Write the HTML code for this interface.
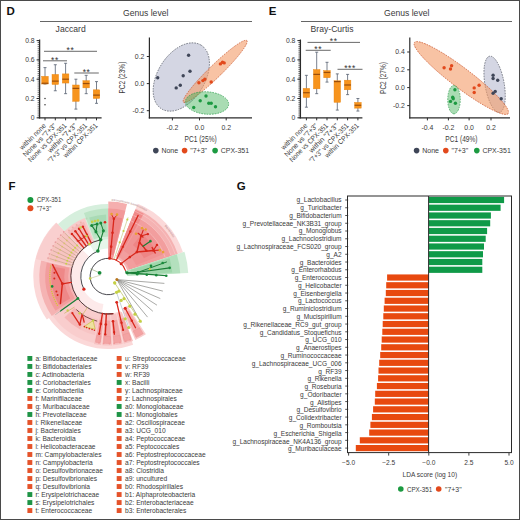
<!DOCTYPE html>
<html><head><meta charset="utf-8"><style>
html,body{margin:0;padding:0;background:#fff;width:520px;height:520px;overflow:hidden}
svg{display:block}
text{font-family:"Liberation Sans", sans-serif}
</style></head><body>
<svg width="520" height="520" viewBox="0 0 520 520" font-family='"Liberation Sans", sans-serif'>
<rect x="0.00" y="0.00" width="520.00" height="520.00" fill="#ffffff" />
<text x="6.50" y="14.80" font-size="11.5" text-anchor="start" fill="#111" font-weight="bold" >D</text>
<text x="268.80" y="14.80" font-size="11.5" text-anchor="start" fill="#111" font-weight="bold" >E</text>
<text x="123.00" y="16.30" font-size="8.6" text-anchor="start" fill="#3a3a3a" font-weight="normal" >Genus level</text>
<line x1="40.00" y1="21.50" x2="252.00" y2="21.50" stroke="#555" stroke-width="0.9" />
<text x="384.00" y="16.30" font-size="8.6" text-anchor="start" fill="#3a3a3a" font-weight="normal" >Genus level</text>
<line x1="301.00" y1="21.50" x2="512.00" y2="21.50" stroke="#555" stroke-width="0.9" />
<text x="55.60" y="32.00" font-size="8.6" text-anchor="start" fill="#3a3a3a" font-weight="normal" >Jaccard</text>
<line x1="39.60" y1="39.50" x2="39.60" y2="118.30" stroke="#2b2b2b" stroke-width="1.3" />
<line x1="37.60" y1="117.80" x2="39.60" y2="117.80" stroke="#333" stroke-width="0.7" />
<line x1="37.60" y1="115.87" x2="39.60" y2="115.87" stroke="#333" stroke-width="0.7" />
<line x1="37.60" y1="113.94" x2="39.60" y2="113.94" stroke="#333" stroke-width="0.7" />
<line x1="37.60" y1="112.01" x2="39.60" y2="112.01" stroke="#333" stroke-width="0.7" />
<line x1="37.60" y1="110.08" x2="39.60" y2="110.08" stroke="#333" stroke-width="0.7" />
<line x1="37.60" y1="108.15" x2="39.60" y2="108.15" stroke="#333" stroke-width="0.7" />
<line x1="37.60" y1="106.22" x2="39.60" y2="106.22" stroke="#333" stroke-width="0.7" />
<line x1="37.60" y1="104.29" x2="39.60" y2="104.29" stroke="#333" stroke-width="0.7" />
<line x1="37.60" y1="102.36" x2="39.60" y2="102.36" stroke="#333" stroke-width="0.7" />
<line x1="37.60" y1="100.43" x2="39.60" y2="100.43" stroke="#333" stroke-width="0.7" />
<line x1="37.60" y1="98.50" x2="39.60" y2="98.50" stroke="#333" stroke-width="0.7" />
<line x1="37.60" y1="96.57" x2="39.60" y2="96.57" stroke="#333" stroke-width="0.7" />
<line x1="37.60" y1="94.64" x2="39.60" y2="94.64" stroke="#333" stroke-width="0.7" />
<line x1="37.60" y1="92.71" x2="39.60" y2="92.71" stroke="#333" stroke-width="0.7" />
<line x1="37.60" y1="90.78" x2="39.60" y2="90.78" stroke="#333" stroke-width="0.7" />
<line x1="37.60" y1="88.85" x2="39.60" y2="88.85" stroke="#333" stroke-width="0.7" />
<line x1="37.60" y1="86.92" x2="39.60" y2="86.92" stroke="#333" stroke-width="0.7" />
<line x1="37.60" y1="84.99" x2="39.60" y2="84.99" stroke="#333" stroke-width="0.7" />
<line x1="37.60" y1="83.06" x2="39.60" y2="83.06" stroke="#333" stroke-width="0.7" />
<line x1="37.60" y1="81.13" x2="39.60" y2="81.13" stroke="#333" stroke-width="0.7" />
<line x1="37.60" y1="79.20" x2="39.60" y2="79.20" stroke="#333" stroke-width="0.7" />
<line x1="37.60" y1="77.27" x2="39.60" y2="77.27" stroke="#333" stroke-width="0.7" />
<line x1="37.60" y1="75.34" x2="39.60" y2="75.34" stroke="#333" stroke-width="0.7" />
<line x1="37.60" y1="73.41" x2="39.60" y2="73.41" stroke="#333" stroke-width="0.7" />
<line x1="37.60" y1="71.48" x2="39.60" y2="71.48" stroke="#333" stroke-width="0.7" />
<line x1="37.60" y1="69.55" x2="39.60" y2="69.55" stroke="#333" stroke-width="0.7" />
<line x1="37.60" y1="67.62" x2="39.60" y2="67.62" stroke="#333" stroke-width="0.7" />
<line x1="37.60" y1="65.69" x2="39.60" y2="65.69" stroke="#333" stroke-width="0.7" />
<line x1="37.60" y1="63.76" x2="39.60" y2="63.76" stroke="#333" stroke-width="0.7" />
<line x1="37.60" y1="61.83" x2="39.60" y2="61.83" stroke="#333" stroke-width="0.7" />
<line x1="37.60" y1="59.90" x2="39.60" y2="59.90" stroke="#333" stroke-width="0.7" />
<line x1="37.60" y1="57.97" x2="39.60" y2="57.97" stroke="#333" stroke-width="0.7" />
<line x1="37.60" y1="56.04" x2="39.60" y2="56.04" stroke="#333" stroke-width="0.7" />
<line x1="37.60" y1="54.11" x2="39.60" y2="54.11" stroke="#333" stroke-width="0.7" />
<line x1="37.60" y1="52.18" x2="39.60" y2="52.18" stroke="#333" stroke-width="0.7" />
<line x1="37.60" y1="50.25" x2="39.60" y2="50.25" stroke="#333" stroke-width="0.7" />
<line x1="37.60" y1="48.32" x2="39.60" y2="48.32" stroke="#333" stroke-width="0.7" />
<line x1="37.60" y1="46.39" x2="39.60" y2="46.39" stroke="#333" stroke-width="0.7" />
<line x1="37.60" y1="44.46" x2="39.60" y2="44.46" stroke="#333" stroke-width="0.7" />
<line x1="37.60" y1="42.53" x2="39.60" y2="42.53" stroke="#333" stroke-width="0.7" />
<line x1="37.60" y1="40.60" x2="39.60" y2="40.60" stroke="#333" stroke-width="0.7" />
<line x1="36.60" y1="117.80" x2="39.60" y2="117.80" stroke="#2b2b2b" stroke-width="1" />
<text x="34.60" y="120.20" font-size="6.8" text-anchor="end" fill="#3a3a3a" font-weight="normal" >0</text>
<line x1="36.60" y1="98.50" x2="39.60" y2="98.50" stroke="#2b2b2b" stroke-width="1" />
<text x="34.60" y="100.90" font-size="6.8" text-anchor="end" fill="#3a3a3a" font-weight="normal" >0.2</text>
<line x1="36.60" y1="79.20" x2="39.60" y2="79.20" stroke="#2b2b2b" stroke-width="1" />
<text x="34.60" y="81.60" font-size="6.8" text-anchor="end" fill="#3a3a3a" font-weight="normal" >0.4</text>
<line x1="36.60" y1="59.90" x2="39.60" y2="59.90" stroke="#2b2b2b" stroke-width="1" />
<text x="34.60" y="62.30" font-size="6.8" text-anchor="end" fill="#3a3a3a" font-weight="normal" >0.6</text>
<line x1="36.60" y1="40.60" x2="39.60" y2="40.60" stroke="#2b2b2b" stroke-width="1" />
<text x="34.60" y="43.00" font-size="6.8" text-anchor="end" fill="#3a3a3a" font-weight="normal" >0.8</text>
<line x1="39.00" y1="117.80" x2="101.60" y2="117.80" stroke="#2b2b2b" stroke-width="1.3" />
<line x1="45.00" y1="117.80" x2="45.00" y2="120.30" stroke="#2b2b2b" stroke-width="1" />
<line x1="55.30" y1="117.80" x2="55.30" y2="120.30" stroke="#2b2b2b" stroke-width="1" />
<line x1="65.60" y1="117.80" x2="65.60" y2="120.30" stroke="#2b2b2b" stroke-width="1" />
<line x1="75.90" y1="117.80" x2="75.90" y2="120.30" stroke="#2b2b2b" stroke-width="1" />
<line x1="86.20" y1="117.80" x2="86.20" y2="120.30" stroke="#2b2b2b" stroke-width="1" />
<line x1="96.50" y1="117.80" x2="96.50" y2="120.30" stroke="#2b2b2b" stroke-width="1" />
<line x1="45.00" y1="67.62" x2="45.00" y2="84.03" stroke="#556070" stroke-width="0.8" />
<line x1="43.50" y1="67.62" x2="46.50" y2="67.62" stroke="#556070" stroke-width="0.8" />
<line x1="43.50" y1="84.03" x2="46.50" y2="84.03" stroke="#556070" stroke-width="0.8" />
<rect x="41.70" y="76.31" width="6.60" height="7.72" fill="#f7941d" stroke="#e88410" stroke-width="0.4"/>
<line x1="41.70" y1="83.25" x2="48.30" y2="83.25" stroke="#9a4d0a" stroke-width="1.2" />
<circle cx="45.00" cy="98.50" r="0.8" fill="#444" />
<circle cx="45.00" cy="104.77" r="0.8" fill="#444" />
<line x1="55.30" y1="64.72" x2="55.30" y2="90.78" stroke="#556070" stroke-width="0.8" />
<line x1="53.80" y1="64.72" x2="56.80" y2="64.72" stroke="#556070" stroke-width="0.8" />
<line x1="53.80" y1="90.78" x2="56.80" y2="90.78" stroke="#556070" stroke-width="0.8" />
<rect x="52.00" y="74.38" width="6.60" height="10.13" fill="#f7941d" stroke="#e88410" stroke-width="0.4"/>
<line x1="52.00" y1="81.13" x2="58.60" y2="81.13" stroke="#9a4d0a" stroke-width="1.2" />
<line x1="65.60" y1="63.28" x2="65.60" y2="93.67" stroke="#556070" stroke-width="0.8" />
<line x1="64.10" y1="63.28" x2="67.10" y2="63.28" stroke="#556070" stroke-width="0.8" />
<line x1="64.10" y1="93.67" x2="67.10" y2="93.67" stroke="#556070" stroke-width="0.8" />
<rect x="62.30" y="73.89" width="6.60" height="9.17" fill="#f7941d" stroke="#e88410" stroke-width="0.4"/>
<line x1="62.30" y1="79.20" x2="68.90" y2="79.20" stroke="#9a4d0a" stroke-width="1.2" />
<line x1="75.90" y1="79.20" x2="75.90" y2="109.11" stroke="#556070" stroke-width="0.8" />
<line x1="74.40" y1="79.20" x2="77.40" y2="79.20" stroke="#556070" stroke-width="0.8" />
<line x1="74.40" y1="109.11" x2="77.40" y2="109.11" stroke="#556070" stroke-width="0.8" />
<rect x="72.60" y="84.99" width="6.60" height="16.41" fill="#f7941d" stroke="#e88410" stroke-width="0.4"/>
<line x1="72.60" y1="88.37" x2="79.20" y2="88.37" stroke="#9a4d0a" stroke-width="1.2" />
<line x1="86.20" y1="75.34" x2="86.20" y2="93.67" stroke="#556070" stroke-width="0.8" />
<line x1="84.70" y1="75.34" x2="87.70" y2="75.34" stroke="#556070" stroke-width="0.8" />
<line x1="84.70" y1="93.67" x2="87.70" y2="93.67" stroke="#556070" stroke-width="0.8" />
<rect x="82.90" y="80.65" width="6.60" height="7.24" fill="#f7941d" stroke="#e88410" stroke-width="0.4"/>
<line x1="82.90" y1="83.54" x2="89.50" y2="83.54" stroke="#9a4d0a" stroke-width="1.2" />
<line x1="96.50" y1="81.61" x2="96.50" y2="103.33" stroke="#556070" stroke-width="0.8" />
<line x1="95.00" y1="81.61" x2="98.00" y2="81.61" stroke="#556070" stroke-width="0.8" />
<line x1="95.00" y1="103.33" x2="98.00" y2="103.33" stroke="#556070" stroke-width="0.8" />
<rect x="93.20" y="89.81" width="6.60" height="8.69" fill="#f7941d" stroke="#e88410" stroke-width="0.4"/>
<line x1="93.20" y1="95.12" x2="99.80" y2="95.12" stroke="#9a4d0a" stroke-width="1.2" />
<line x1="44.00" y1="51.30" x2="97.00" y2="51.30" stroke="#444" stroke-width="0.8" />
<text x="70.50" y="53.00" font-size="8.5" text-anchor="middle" fill="#333" font-weight="normal" letter-spacing="0.6">**</text>
<line x1="43.00" y1="60.80" x2="67.00" y2="60.80" stroke="#444" stroke-width="0.8" />
<text x="55.00" y="62.50" font-size="8.5" text-anchor="middle" fill="#333" font-weight="normal" letter-spacing="0.6">**</text>
<line x1="74.30" y1="73.00" x2="98.80" y2="73.00" stroke="#444" stroke-width="0.8" />
<text x="86.55" y="74.70" font-size="8.5" text-anchor="middle" fill="#333" font-weight="normal" letter-spacing="0.6">**</text>
<text x="46.50" y="126.20" font-size="7.1" text-anchor="end" fill="#3a3a3a" font-weight="normal" textLength="34.1" lengthAdjust="spacingAndGlyphs" transform="rotate(-45 46.50 126.20)">within none</text>
<text x="56.80" y="126.20" font-size="7.1" text-anchor="end" fill="#3a3a3a" font-weight="normal" textLength="43.9" lengthAdjust="spacingAndGlyphs" transform="rotate(-45 56.80 126.20)">None vs "7+3"</text>
<text x="67.10" y="126.20" font-size="7.1" text-anchor="end" fill="#3a3a3a" font-weight="normal" textLength="51.2" lengthAdjust="spacingAndGlyphs" transform="rotate(-45 67.10 126.20)">None vs CPX-351</text>
<text x="77.40" y="126.20" font-size="7.1" text-anchor="end" fill="#3a3a3a" font-weight="normal" textLength="38.1" lengthAdjust="spacingAndGlyphs" transform="rotate(-45 77.40 126.20)">within "7+3"</text>
<text x="87.70" y="126.20" font-size="7.1" text-anchor="end" fill="#3a3a3a" font-weight="normal" textLength="52.5" lengthAdjust="spacingAndGlyphs" transform="rotate(-45 87.70 126.20)">"7+3" vs CPX-351</text>
<text x="98.00" y="126.20" font-size="7.1" text-anchor="end" fill="#3a3a3a" font-weight="normal" textLength="45.2" lengthAdjust="spacingAndGlyphs" transform="rotate(-45 98.00 126.20)">within CPX-351</text>
<text x="310.60" y="32.00" font-size="8.6" text-anchor="start" fill="#3a3a3a" font-weight="normal" >Bray-Curtis</text>
<line x1="300.40" y1="39.50" x2="300.40" y2="118.30" stroke="#2b2b2b" stroke-width="1.3" />
<line x1="298.40" y1="117.80" x2="300.40" y2="117.80" stroke="#333" stroke-width="0.7" />
<line x1="298.40" y1="115.87" x2="300.40" y2="115.87" stroke="#333" stroke-width="0.7" />
<line x1="298.40" y1="113.94" x2="300.40" y2="113.94" stroke="#333" stroke-width="0.7" />
<line x1="298.40" y1="112.01" x2="300.40" y2="112.01" stroke="#333" stroke-width="0.7" />
<line x1="298.40" y1="110.08" x2="300.40" y2="110.08" stroke="#333" stroke-width="0.7" />
<line x1="298.40" y1="108.15" x2="300.40" y2="108.15" stroke="#333" stroke-width="0.7" />
<line x1="298.40" y1="106.22" x2="300.40" y2="106.22" stroke="#333" stroke-width="0.7" />
<line x1="298.40" y1="104.29" x2="300.40" y2="104.29" stroke="#333" stroke-width="0.7" />
<line x1="298.40" y1="102.36" x2="300.40" y2="102.36" stroke="#333" stroke-width="0.7" />
<line x1="298.40" y1="100.43" x2="300.40" y2="100.43" stroke="#333" stroke-width="0.7" />
<line x1="298.40" y1="98.50" x2="300.40" y2="98.50" stroke="#333" stroke-width="0.7" />
<line x1="298.40" y1="96.57" x2="300.40" y2="96.57" stroke="#333" stroke-width="0.7" />
<line x1="298.40" y1="94.64" x2="300.40" y2="94.64" stroke="#333" stroke-width="0.7" />
<line x1="298.40" y1="92.71" x2="300.40" y2="92.71" stroke="#333" stroke-width="0.7" />
<line x1="298.40" y1="90.78" x2="300.40" y2="90.78" stroke="#333" stroke-width="0.7" />
<line x1="298.40" y1="88.85" x2="300.40" y2="88.85" stroke="#333" stroke-width="0.7" />
<line x1="298.40" y1="86.92" x2="300.40" y2="86.92" stroke="#333" stroke-width="0.7" />
<line x1="298.40" y1="84.99" x2="300.40" y2="84.99" stroke="#333" stroke-width="0.7" />
<line x1="298.40" y1="83.06" x2="300.40" y2="83.06" stroke="#333" stroke-width="0.7" />
<line x1="298.40" y1="81.13" x2="300.40" y2="81.13" stroke="#333" stroke-width="0.7" />
<line x1="298.40" y1="79.20" x2="300.40" y2="79.20" stroke="#333" stroke-width="0.7" />
<line x1="298.40" y1="77.27" x2="300.40" y2="77.27" stroke="#333" stroke-width="0.7" />
<line x1="298.40" y1="75.34" x2="300.40" y2="75.34" stroke="#333" stroke-width="0.7" />
<line x1="298.40" y1="73.41" x2="300.40" y2="73.41" stroke="#333" stroke-width="0.7" />
<line x1="298.40" y1="71.48" x2="300.40" y2="71.48" stroke="#333" stroke-width="0.7" />
<line x1="298.40" y1="69.55" x2="300.40" y2="69.55" stroke="#333" stroke-width="0.7" />
<line x1="298.40" y1="67.62" x2="300.40" y2="67.62" stroke="#333" stroke-width="0.7" />
<line x1="298.40" y1="65.69" x2="300.40" y2="65.69" stroke="#333" stroke-width="0.7" />
<line x1="298.40" y1="63.76" x2="300.40" y2="63.76" stroke="#333" stroke-width="0.7" />
<line x1="298.40" y1="61.83" x2="300.40" y2="61.83" stroke="#333" stroke-width="0.7" />
<line x1="298.40" y1="59.90" x2="300.40" y2="59.90" stroke="#333" stroke-width="0.7" />
<line x1="298.40" y1="57.97" x2="300.40" y2="57.97" stroke="#333" stroke-width="0.7" />
<line x1="298.40" y1="56.04" x2="300.40" y2="56.04" stroke="#333" stroke-width="0.7" />
<line x1="298.40" y1="54.11" x2="300.40" y2="54.11" stroke="#333" stroke-width="0.7" />
<line x1="298.40" y1="52.18" x2="300.40" y2="52.18" stroke="#333" stroke-width="0.7" />
<line x1="298.40" y1="50.25" x2="300.40" y2="50.25" stroke="#333" stroke-width="0.7" />
<line x1="298.40" y1="48.32" x2="300.40" y2="48.32" stroke="#333" stroke-width="0.7" />
<line x1="298.40" y1="46.39" x2="300.40" y2="46.39" stroke="#333" stroke-width="0.7" />
<line x1="298.40" y1="44.46" x2="300.40" y2="44.46" stroke="#333" stroke-width="0.7" />
<line x1="298.40" y1="42.53" x2="300.40" y2="42.53" stroke="#333" stroke-width="0.7" />
<line x1="298.40" y1="40.60" x2="300.40" y2="40.60" stroke="#333" stroke-width="0.7" />
<line x1="297.40" y1="117.80" x2="300.40" y2="117.80" stroke="#2b2b2b" stroke-width="1" />
<text x="295.40" y="120.20" font-size="6.8" text-anchor="end" fill="#3a3a3a" font-weight="normal" >0</text>
<line x1="297.40" y1="98.50" x2="300.40" y2="98.50" stroke="#2b2b2b" stroke-width="1" />
<text x="295.40" y="100.90" font-size="6.8" text-anchor="end" fill="#3a3a3a" font-weight="normal" >0.2</text>
<line x1="297.40" y1="79.20" x2="300.40" y2="79.20" stroke="#2b2b2b" stroke-width="1" />
<text x="295.40" y="81.60" font-size="6.8" text-anchor="end" fill="#3a3a3a" font-weight="normal" >0.4</text>
<line x1="297.40" y1="59.90" x2="300.40" y2="59.90" stroke="#2b2b2b" stroke-width="1" />
<text x="295.40" y="62.30" font-size="6.8" text-anchor="end" fill="#3a3a3a" font-weight="normal" >0.6</text>
<line x1="297.40" y1="40.60" x2="300.40" y2="40.60" stroke="#2b2b2b" stroke-width="1" />
<text x="295.40" y="43.00" font-size="6.8" text-anchor="end" fill="#3a3a3a" font-weight="normal" >0.8</text>
<line x1="299.80" y1="117.80" x2="362.40" y2="117.80" stroke="#2b2b2b" stroke-width="1.3" />
<line x1="306.40" y1="117.80" x2="306.40" y2="120.30" stroke="#2b2b2b" stroke-width="1" />
<line x1="316.70" y1="117.80" x2="316.70" y2="120.30" stroke="#2b2b2b" stroke-width="1" />
<line x1="327.00" y1="117.80" x2="327.00" y2="120.30" stroke="#2b2b2b" stroke-width="1" />
<line x1="337.30" y1="117.80" x2="337.30" y2="120.30" stroke="#2b2b2b" stroke-width="1" />
<line x1="347.60" y1="117.80" x2="347.60" y2="120.30" stroke="#2b2b2b" stroke-width="1" />
<line x1="357.90" y1="117.80" x2="357.90" y2="120.30" stroke="#2b2b2b" stroke-width="1" />
<line x1="306.40" y1="75.34" x2="306.40" y2="107.19" stroke="#556070" stroke-width="0.8" />
<line x1="304.90" y1="75.34" x2="307.90" y2="75.34" stroke="#556070" stroke-width="0.8" />
<line x1="304.90" y1="107.19" x2="307.90" y2="107.19" stroke="#556070" stroke-width="0.8" />
<rect x="303.10" y="88.37" width="6.60" height="9.17" fill="#f7941d" stroke="#e88410" stroke-width="0.4"/>
<line x1="303.10" y1="92.71" x2="309.70" y2="92.71" stroke="#9a4d0a" stroke-width="1.2" />
<line x1="316.70" y1="52.18" x2="316.70" y2="93.67" stroke="#556070" stroke-width="0.8" />
<line x1="315.20" y1="52.18" x2="318.20" y2="52.18" stroke="#556070" stroke-width="0.8" />
<line x1="315.20" y1="93.67" x2="318.20" y2="93.67" stroke="#556070" stroke-width="0.8" />
<rect x="313.40" y="69.55" width="6.60" height="19.30" fill="#f7941d" stroke="#e88410" stroke-width="0.4"/>
<line x1="313.40" y1="74.38" x2="320.00" y2="74.38" stroke="#9a4d0a" stroke-width="1.2" />
<line x1="327.00" y1="62.31" x2="327.00" y2="82.09" stroke="#556070" stroke-width="0.8" />
<line x1="325.50" y1="62.31" x2="328.50" y2="62.31" stroke="#556070" stroke-width="0.8" />
<line x1="325.50" y1="82.09" x2="328.50" y2="82.09" stroke="#556070" stroke-width="0.8" />
<rect x="323.70" y="70.52" width="6.60" height="7.24" fill="#f7941d" stroke="#e88410" stroke-width="0.4"/>
<line x1="323.70" y1="72.44" x2="330.30" y2="72.44" stroke="#9a4d0a" stroke-width="1.2" />
<line x1="337.30" y1="73.89" x2="337.30" y2="110.08" stroke="#556070" stroke-width="0.8" />
<line x1="335.80" y1="73.89" x2="338.80" y2="73.89" stroke="#556070" stroke-width="0.8" />
<line x1="335.80" y1="110.08" x2="338.80" y2="110.08" stroke="#556070" stroke-width="0.8" />
<rect x="334.00" y="80.65" width="6.60" height="21.71" fill="#f7941d" stroke="#e88410" stroke-width="0.4"/>
<line x1="334.00" y1="81.61" x2="340.60" y2="81.61" stroke="#9a4d0a" stroke-width="1.2" />
<line x1="347.60" y1="74.38" x2="347.60" y2="94.64" stroke="#556070" stroke-width="0.8" />
<line x1="346.10" y1="74.38" x2="349.10" y2="74.38" stroke="#556070" stroke-width="0.8" />
<line x1="346.10" y1="94.64" x2="349.10" y2="94.64" stroke="#556070" stroke-width="0.8" />
<rect x="344.30" y="80.16" width="6.60" height="9.65" fill="#f7941d" stroke="#e88410" stroke-width="0.4"/>
<line x1="344.30" y1="84.99" x2="350.90" y2="84.99" stroke="#9a4d0a" stroke-width="1.2" />
<line x1="357.90" y1="98.50" x2="357.90" y2="111.05" stroke="#556070" stroke-width="0.8" />
<line x1="356.40" y1="98.50" x2="359.40" y2="98.50" stroke="#556070" stroke-width="0.8" />
<line x1="356.40" y1="111.05" x2="359.40" y2="111.05" stroke="#556070" stroke-width="0.8" />
<rect x="354.60" y="102.36" width="6.60" height="5.79" fill="#f7941d" stroke="#e88410" stroke-width="0.4"/>
<line x1="354.60" y1="105.25" x2="361.20" y2="105.25" stroke="#9a4d0a" stroke-width="1.2" />
<line x1="307.50" y1="42.40" x2="360.00" y2="42.40" stroke="#444" stroke-width="0.8" />
<text x="333.75" y="44.10" font-size="8.5" text-anchor="middle" fill="#333" font-weight="normal" letter-spacing="0.6">**</text>
<line x1="305.70" y1="50.30" x2="330.70" y2="50.30" stroke="#444" stroke-width="0.8" />
<text x="318.20" y="52.00" font-size="8.5" text-anchor="middle" fill="#333" font-weight="normal" letter-spacing="0.6">**</text>
<line x1="337.50" y1="69.30" x2="362.50" y2="69.30" stroke="#444" stroke-width="0.8" />
<text x="350.00" y="71.00" font-size="8.5" text-anchor="middle" fill="#333" font-weight="normal" letter-spacing="0.6">***</text>
<text x="307.90" y="126.20" font-size="7.1" text-anchor="end" fill="#3a3a3a" font-weight="normal" textLength="34.1" lengthAdjust="spacingAndGlyphs" transform="rotate(-45 307.90 126.20)">within none</text>
<text x="318.20" y="126.20" font-size="7.1" text-anchor="end" fill="#3a3a3a" font-weight="normal" textLength="43.9" lengthAdjust="spacingAndGlyphs" transform="rotate(-45 318.20 126.20)">None vs "7+3"</text>
<text x="328.50" y="126.20" font-size="7.1" text-anchor="end" fill="#3a3a3a" font-weight="normal" textLength="51.2" lengthAdjust="spacingAndGlyphs" transform="rotate(-45 328.50 126.20)">None vs CPX-351</text>
<text x="338.80" y="126.20" font-size="7.1" text-anchor="end" fill="#3a3a3a" font-weight="normal" textLength="38.1" lengthAdjust="spacingAndGlyphs" transform="rotate(-45 338.80 126.20)">within "7+3"</text>
<text x="349.10" y="126.20" font-size="7.1" text-anchor="end" fill="#3a3a3a" font-weight="normal" textLength="52.5" lengthAdjust="spacingAndGlyphs" transform="rotate(-45 349.10 126.20)">"7+3" vs CPX-351</text>
<text x="359.40" y="126.20" font-size="7.1" text-anchor="end" fill="#3a3a3a" font-weight="normal" textLength="45.2" lengthAdjust="spacingAndGlyphs" transform="rotate(-45 359.40 126.20)">within CPX-351</text>
<ellipse cx="181.3" cy="77.0" rx="37.5" ry="23.5" transform="rotate(-58 181.3 77.0)" fill="#9498b9" fill-opacity="0.4" stroke="#555a66" stroke-width="0.7" stroke-dasharray="1.6 1.1"/>
<ellipse cx="215.15" cy="71.4" rx="44.2" ry="6.3" transform="rotate(-44.2 215.15 71.4)" fill="#f39b67" fill-opacity="0.6" stroke="#c8532a" stroke-width="0.7" stroke-dasharray="1.6 1.1"/>
<ellipse cx="207.0" cy="103.0" rx="21.7" ry="11.2" transform="rotate(4 207.0 103.0)" fill="#40b156" fill-opacity="0.45" stroke="#2f9c4e" stroke-width="0.7" stroke-dasharray="1.6 1.1"/>
<circle cx="157.70" cy="77.70" r="1.7" fill="#3f4658" />
<circle cx="188.60" cy="55.20" r="1.7" fill="#3f4658" />
<circle cx="190.00" cy="71.20" r="1.7" fill="#3f4658" />
<circle cx="183.20" cy="75.80" r="1.7" fill="#3f4658" />
<circle cx="180.30" cy="85.20" r="1.7" fill="#3f4658" />
<circle cx="176.20" cy="87.90" r="1.7" fill="#3f4658" />
<circle cx="220.40" cy="63.90" r="1.7" fill="#e2491c" />
<circle cx="222.50" cy="62.30" r="1.7" fill="#e2491c" />
<circle cx="224.20" cy="62.90" r="1.7" fill="#e2491c" />
<circle cx="204.80" cy="79.30" r="1.7" fill="#e2491c" />
<circle cx="198.90" cy="82.80" r="1.7" fill="#e2491c" />
<circle cx="211.20" cy="82.00" r="1.7" fill="#e2491c" />
<circle cx="202.90" cy="80.60" r="1.7" fill="#e2491c" />
<circle cx="206.00" cy="96.00" r="1.7" fill="#1c9a41" />
<circle cx="200.20" cy="100.80" r="1.7" fill="#1c9a41" />
<circle cx="208.80" cy="103.20" r="1.7" fill="#1c9a41" />
<circle cx="211.20" cy="103.20" r="1.7" fill="#1c9a41" />
<circle cx="215.50" cy="106.70" r="1.7" fill="#1c9a41" />
<circle cx="193.70" cy="107.50" r="1.7" fill="#1c9a41" />
<line x1="149.40" y1="37.50" x2="149.40" y2="118.40" stroke="#2b2b2b" stroke-width="1.2" />
<line x1="148.80" y1="117.80" x2="252.00" y2="117.80" stroke="#2b2b2b" stroke-width="1.2" />
<line x1="172.40" y1="117.80" x2="172.40" y2="120.40" stroke="#2b2b2b" stroke-width="1" />
<text x="172.40" y="129.80" font-size="6.9" text-anchor="middle" fill="#3a3a3a" font-weight="normal" >-0.2</text>
<line x1="199.50" y1="117.80" x2="199.50" y2="120.40" stroke="#2b2b2b" stroke-width="1" />
<text x="199.50" y="129.80" font-size="6.9" text-anchor="middle" fill="#3a3a3a" font-weight="normal" >0.0</text>
<line x1="226.20" y1="117.80" x2="226.20" y2="120.40" stroke="#2b2b2b" stroke-width="1" />
<text x="226.20" y="129.80" font-size="6.9" text-anchor="middle" fill="#3a3a3a" font-weight="normal" >0.2</text>
<line x1="146.80" y1="56.50" x2="149.40" y2="56.50" stroke="#2b2b2b" stroke-width="1" />
<text x="144.40" y="58.90" font-size="6.9" text-anchor="end" fill="#3a3a3a" font-weight="normal" >0.2</text>
<line x1="146.80" y1="83.60" x2="149.40" y2="83.60" stroke="#2b2b2b" stroke-width="1" />
<text x="144.40" y="86.00" font-size="6.9" text-anchor="end" fill="#3a3a3a" font-weight="normal" >0.0</text>
<line x1="146.80" y1="110.70" x2="149.40" y2="110.70" stroke="#2b2b2b" stroke-width="1" />
<text x="144.40" y="113.10" font-size="6.9" text-anchor="end" fill="#3a3a3a" font-weight="normal" >-0.2</text>
<text x="200.60" y="141.60" font-size="8.6" text-anchor="middle" fill="#3a3a3a" font-weight="normal" textLength="32.2" lengthAdjust="spacingAndGlyphs">PC1 (25%)</text>
<text x="125.40" y="77.60" font-size="8.5" text-anchor="middle" fill="#3a3a3a" font-weight="normal" textLength="31.8" lengthAdjust="spacingAndGlyphs" transform="rotate(-90 125.4 77.6)">PC2 (23%)</text>
<circle cx="155.80" cy="150.60" r="2.8" fill="#3f4658" />
<text x="161.40" y="153.10" font-size="7.0" text-anchor="start" fill="#3a3a3a" font-weight="normal" >None</text>
<circle cx="184.60" cy="150.60" r="2.8" fill="#e2491c" />
<text x="190.20" y="153.10" font-size="7.0" text-anchor="start" fill="#3a3a3a" font-weight="normal" >"7+3"</text>
<circle cx="215.10" cy="150.60" r="2.8" fill="#1c9a41" />
<text x="220.70" y="153.10" font-size="7.0" text-anchor="start" fill="#3a3a3a" font-weight="normal" >CPX-351</text>
<ellipse cx="494.6" cy="84.3" rx="28.5" ry="9.6" transform="rotate(80 494.6 84.3)" fill="#9498b9" fill-opacity="0.4" stroke="#555a66" stroke-width="0.7" stroke-dasharray="1.6 1.1"/>
<ellipse cx="461.3" cy="78.0" rx="58.8" ry="10.0" transform="rotate(37.2 461.3 78.0)" fill="#f39b67" fill-opacity="0.6" stroke="#c8532a" stroke-width="0.7" stroke-dasharray="1.6 1.1"/>
<ellipse cx="454.0" cy="99.6" rx="14.2" ry="6.3" transform="rotate(90 454.0 99.6)" fill="#40b156" fill-opacity="0.45" stroke="#2f9c4e" stroke-width="0.7" stroke-dasharray="1.6 1.1"/>
<circle cx="493.10" cy="75.20" r="1.7" fill="#3f4658" />
<circle cx="493.10" cy="78.50" r="1.7" fill="#3f4658" />
<circle cx="497.70" cy="80.30" r="1.7" fill="#3f4658" />
<circle cx="495.20" cy="91.40" r="1.7" fill="#3f4658" />
<circle cx="493.10" cy="93.30" r="1.7" fill="#3f4658" />
<circle cx="501.20" cy="98.70" r="1.7" fill="#3f4658" />
<circle cx="444.10" cy="67.70" r="1.7" fill="#e2491c" />
<circle cx="450.50" cy="69.00" r="1.7" fill="#e2491c" />
<circle cx="451.60" cy="65.80" r="1.7" fill="#e2491c" />
<circle cx="474.20" cy="87.90" r="1.7" fill="#e2491c" />
<circle cx="479.10" cy="85.20" r="1.7" fill="#e2491c" />
<circle cx="474.20" cy="92.50" r="1.7" fill="#e2491c" />
<circle cx="454.90" cy="89.80" r="1.7" fill="#1c9a41" />
<circle cx="453.20" cy="98.70" r="1.7" fill="#1c9a41" />
<circle cx="450.50" cy="101.40" r="1.7" fill="#1c9a41" />
<circle cx="455.40" cy="103.20" r="1.7" fill="#1c9a41" />
<circle cx="452.70" cy="97.30" r="1.7" fill="#1c9a41" />
<line x1="409.80" y1="37.50" x2="409.80" y2="118.40" stroke="#2b2b2b" stroke-width="1.2" />
<line x1="409.20" y1="117.80" x2="510.00" y2="117.80" stroke="#2b2b2b" stroke-width="1.2" />
<line x1="427.40" y1="117.80" x2="427.40" y2="120.40" stroke="#2b2b2b" stroke-width="1" />
<text x="427.40" y="129.80" font-size="6.9" text-anchor="middle" fill="#3a3a3a" font-weight="normal" >-0.4</text>
<line x1="448.40" y1="117.80" x2="448.40" y2="120.40" stroke="#2b2b2b" stroke-width="1" />
<text x="448.40" y="129.80" font-size="6.9" text-anchor="middle" fill="#3a3a3a" font-weight="normal" >-0.2</text>
<line x1="469.10" y1="117.80" x2="469.10" y2="120.40" stroke="#2b2b2b" stroke-width="1" />
<text x="469.10" y="129.80" font-size="6.9" text-anchor="middle" fill="#3a3a3a" font-weight="normal" >0.0</text>
<line x1="491.00" y1="117.80" x2="491.00" y2="120.40" stroke="#2b2b2b" stroke-width="1" />
<text x="491.00" y="129.80" font-size="6.9" text-anchor="middle" fill="#3a3a3a" font-weight="normal" >0.2</text>
<line x1="407.20" y1="52.00" x2="409.80" y2="52.00" stroke="#2b2b2b" stroke-width="1" />
<text x="404.80" y="54.40" font-size="6.9" text-anchor="end" fill="#3a3a3a" font-weight="normal" >0.4</text>
<line x1="407.20" y1="69.80" x2="409.80" y2="69.80" stroke="#2b2b2b" stroke-width="1" />
<text x="404.80" y="72.20" font-size="6.9" text-anchor="end" fill="#3a3a3a" font-weight="normal" >0.2</text>
<line x1="407.20" y1="87.60" x2="409.80" y2="87.60" stroke="#2b2b2b" stroke-width="1" />
<text x="404.80" y="90.00" font-size="6.9" text-anchor="end" fill="#3a3a3a" font-weight="normal" >0.0</text>
<line x1="407.20" y1="105.60" x2="409.80" y2="105.60" stroke="#2b2b2b" stroke-width="1" />
<text x="404.80" y="108.00" font-size="6.9" text-anchor="end" fill="#3a3a3a" font-weight="normal" >-0.2</text>
<text x="461.40" y="141.60" font-size="8.6" text-anchor="middle" fill="#3a3a3a" font-weight="normal" textLength="32.2" lengthAdjust="spacingAndGlyphs">PC1 (49%)</text>
<text x="385.80" y="78.00" font-size="8.5" text-anchor="middle" fill="#3a3a3a" font-weight="normal" textLength="31.8" lengthAdjust="spacingAndGlyphs" transform="rotate(-90 385.8 78.0)">PC2 (27%)</text>
<circle cx="416.60" cy="150.60" r="2.8" fill="#3f4658" />
<text x="422.20" y="153.10" font-size="7.0" text-anchor="start" fill="#3a3a3a" font-weight="normal" >None</text>
<circle cx="445.80" cy="150.60" r="2.8" fill="#e2491c" />
<text x="451.40" y="153.10" font-size="7.0" text-anchor="start" fill="#3a3a3a" font-weight="normal" >"7+3"</text>
<circle cx="476.80" cy="150.60" r="2.8" fill="#1c9a41" />
<text x="482.40" y="153.10" font-size="7.0" text-anchor="start" fill="#3a3a3a" font-weight="normal" >CPX-351</text>
<path d="M101.88,312.94 A37,37 0 0 1 82.60,249.88 L88.85,256.36 A28,28 0 0 0 103.44,304.07 Z" fill="#fdeaea" />
<path d="M133.10,344.63 A72.5,72.5 0 0 1 48.19,317.04 L77.63,297.19 A37,37 0 0 0 120.95,311.27 Z" fill="#fbd8d8" />
<path d="M46.86,319.52 A75,75 0 0 1 56.20,222.55 L82.60,249.88 A37,37 0 0 0 77.99,297.72 Z" fill="#fbd8d8" />
<path d="M96.49,343.47 A68,68 0 0 1 52.60,315.50 L77.99,297.72 A37,37 0 0 0 101.88,312.94 Z" fill="#f9cdcd" />
<path d="M94.80,334.96 A60,60 0 0 1 80.13,329.48 L87.64,315.35 A44,44 0 0 0 98.40,319.37 Z" fill="#f7c4c4" />
<path d="M80.13,329.48 A60,60 0 0 1 64.42,317.42 L74.66,307.87 A46,46 0 0 0 86.70,317.12 Z" fill="#f5b5b5" />
<path d="M51.78,316.08 A69,69 0 0 1 41.21,260.39 L72.32,267.86 A37,37 0 0 0 77.99,297.72 Z" fill="#f5b3b3" />
<path d="M55.46,310.81 A63,63 0 0 1 46.79,262.86 L69.25,267.84 A40,40 0 0 0 74.75,298.29 Z" fill="#f29d9d" />
<path d="M58.94,305.00 A57,57 0 0 1 52.17,266.60 L64.97,268.86 A44,44 0 0 0 70.19,298.50 Z" fill="#ee8888" />
<path d="M35.86,259.11 A74.5,74.5 0 0 1 56.55,222.91 L82.60,249.88 A37,37 0 0 0 72.32,267.86 Z" fill="#f9cfcf" />
<path d="M47.45,260.19 A63,63 0 0 1 64.54,231.18 L80.51,247.73 A40,40 0 0 0 69.66,266.15 Z" fill="#f7c4c0" />
<path d="M57.94,224.35 A72.5,72.5 0 0 1 108.30,204.00 L108.30,239.50 A37,37 0 0 0 82.60,249.88 Z" fill="#d6efdd" />
<path d="M89.80,244.46 A37,37 0 0 1 108.30,239.50 L108.30,248.50 A28,28 0 0 0 94.30,252.25 Z" fill="#e6f5ea" />
<path d="M64.54,231.18 A63,63 0 0 1 84.70,218.09 L94.44,242.19 A37,37 0 0 0 82.60,249.88 Z" fill="#f8caca" />
<path d="M67.76,232.26 A60,60 0 0 1 83.90,221.69 L92.03,239.96 A40,40 0 0 0 81.28,247.01 Z" fill="#f5b8b8" />
<path d="M83.93,213.02 A68,68 0 0 1 108.30,208.50 L108.30,236.50 A40,40 0 0 0 93.97,239.16 Z" fill="#bde4c6" />
<path d="M89.14,217.53 A62,62 0 0 1 106.14,214.54 L106.76,232.53 A44,44 0 0 0 94.70,234.65 Z" fill="#a9dab5" />
<path d="M108.30,201.50 A75,75 0 0 1 127.08,203.89 L113.06,258.11 A19,19 0 0 0 108.30,257.50 Z" fill="#f5aeae" />
<path d="M108.30,208.50 A68,68 0 0 1 125.33,210.67 L113.06,258.11 A19,19 0 0 0 108.30,257.50 Z" fill="#f29999" />
<path d="M109.35,216.51 A60,60 0 0 1 122.31,218.16 L113.44,255.11 A22,22 0 0 0 108.68,254.50 Z" fill="#ef8686" />
<path d="M137.71,203.72 A78.5,78.5 0 0 1 182.96,252.24 L127.32,270.32 A20,20 0 0 0 115.79,257.96 Z" fill="#fbd9d9" />
<path d="M135.65,208.82 A73,73 0 0 1 177.73,253.94 L127.32,270.32 A20,20 0 0 0 115.79,257.96 Z" fill="#f5b2b2" />
<path d="M133.02,215.31 A66,66 0 0 1 171.07,256.10 L129.22,269.70 A22,22 0 0 0 116.54,256.10 Z" fill="#f29e9e" />
<path d="M135.27,209.74 A72,72 0 0 1 143.75,213.83 L119.13,257.35 A22,22 0 0 0 116.54,256.10 Z" fill="#f08a8a" />
<path d="M139.20,225.07 A60,60 0 0 1 163.93,254.02 L136.12,265.26 A30,30 0 0 0 123.75,250.78 Z" fill="#f09494" />
<path d="M141.55,233.95 A54,54 0 0 1 156.41,251.98 L143.94,258.34 A40,40 0 0 0 132.93,244.98 Z" fill="#ee8585" />
<path d="M184.38,251.78 A80,80 0 0 1 188.22,273.01 L127.28,275.67 A19,19 0 0 0 126.37,270.63 Z" fill="#d3eed9" />
<path d="M176.78,254.25 A72,72 0 0 1 180.23,273.36 L127.28,275.67 A19,19 0 0 0 126.37,270.63 Z" fill="#b3e0bd" />
<path d="M169.66,258.32 A64,64 0 0 1 172.18,272.59 L131.26,275.10 A23,23 0 0 0 130.35,269.97 Z" fill="#9fd6ab" />
<path d="M145.88,334.37 A69,69 0 0 1 135.26,340.01 L121.98,308.72 A35,35 0 0 0 127.36,305.85 Z" fill="#f9cccc" />
<path d="M140.69,329.36 A62,62 0 0 1 134.01,332.92 L124.89,312.90 A40,40 0 0 0 129.20,310.61 Z" fill="#f5b0b0" />
<path d="M133.03,340.92 A69,69 0 0 1 123.82,343.73 L116.85,313.53 A38,38 0 0 0 121.92,311.98 Z" fill="#f7c3c3" />
<path d="M131.31,338.36 A66,66 0 0 1 123.82,340.65 L118.65,319.27 A44,44 0 0 0 123.64,317.74 Z" fill="#f3a7a7" />
<path d="M122.65,343.99 A69,69 0 0 1 113.11,345.33 L110.95,314.41 A38,38 0 0 0 116.20,313.67 Z" fill="#f7c3c3" />
<path d="M121.35,341.20 A66,66 0 0 1 113.59,342.29 L111.83,320.36 A44,44 0 0 0 117.00,319.63 Z" fill="#f3a7a7" />
<path d="M111.91,345.41 A69,69 0 0 1 102.29,345.24 L104.99,314.36 A38,38 0 0 0 110.29,314.45 Z" fill="#f7c3c3" />
<path d="M111.06,342.44 A66,66 0 0 1 103.24,342.31 L104.92,320.37 A44,44 0 0 0 110.14,320.46 Z" fill="#f3a7a7" />
<path d="M101.09,345.12 A69,69 0 0 1 93.95,343.99 L100.40,313.67 A38,38 0 0 0 104.33,314.29 Z" fill="#f7c3c3" />
<path d="M100.71,342.06 A66,66 0 0 1 95.25,341.20 L99.60,319.63 A44,44 0 0 0 103.24,320.21 Z" fill="#f3a7a7" />
<path d="M131.26,221.07 A60,60 0 0 1 165.20,257.46" fill="none" stroke="#fbd6d6" stroke-width="0.45"/>
<path d="M133.56,215.52 A66,66 0 0 1 170.89,255.56" fill="none" stroke="#fbd6d6" stroke-width="0.45"/>
<path d="M135.28,211.37 A70.5,70.5 0 0 1 175.16,254.13" fill="none" stroke="#fbd6d6" stroke-width="0.45"/>
<path d="M131.22,339.46 A67,67 0 0 1 124.51,341.51 L122.82,334.72 A60,60 0 0 0 128.82,332.88 Z" fill="#f3a3a3" stroke="#eb8f8f" stroke-width="0.4"/>
<path d="M121.08,342.27 A67,67 0 0 1 114.14,343.25 L113.53,336.27 A60,60 0 0 0 119.75,335.40 Z" fill="#f3a3a3" stroke="#eb8f8f" stroke-width="0.4"/>
<path d="M110.64,343.46 A67,67 0 0 1 103.63,343.34 L104.11,336.35 A60,60 0 0 0 110.39,336.46 Z" fill="#f3a3a3" stroke="#eb8f8f" stroke-width="0.4"/>
<path d="M100.13,343.00 A67,67 0 0 1 95.52,342.27 L96.85,335.40 A60,60 0 0 0 100.99,336.05 Z" fill="#f3a3a3" stroke="#eb8f8f" stroke-width="0.4"/>
<path d="M143.31,333.63 A67,67 0 0 1 136.08,337.47 L133.18,331.10 A60,60 0 0 0 139.65,327.66 Z" fill="#f3a3a3" stroke="#eb8f8f" stroke-width="0.4"/>
<path id="cp1" d="M111.60,200.97 A75.6,75.6 0 0 1 146.10,211.03" fill="none"/>
<text font-size="2.9" fill="#b58a8a"><textPath href="#cp1">Rikenellaceae  Bacteroidales</textPath></text>
<path id="cp2" d="M164.41,225.98 A75.5,75.5 0 0 1 179.25,250.68" fill="none"/>
<text font-size="2.9" fill="#b58a8a"><textPath href="#cp2">Bacteroidia</textPath></text>
<path d="M114.52,293.60 A18.2,18.2 0 1 1 109.57,258.34" fill="none" stroke="#33333a" stroke-width="0.9"/>
<path d="M109.57,258.34 A18.2,18.2 0 0 1 125.61,270.88" fill="none" stroke="#d8261b" stroke-width="1.1"/>
<path d="M125.61,270.88 A18.2,18.2 0 0 1 126.22,273.34" fill="none" stroke="#1a7d36" stroke-width="1.1"/>
<path d="M84.02,289.41 A27.5,27.5 0 0 1 98.00,251.00" fill="none" stroke="#33333a" stroke-width="0.9"/>
<path d="M112.87,313.72 A37.5,37.5 0 0 1 100.50,239.82" fill="none" stroke="#3a2a2e" stroke-width="0.9"/>
<line x1="99.60" y1="272.80" x2="90.40" y2="268.80" stroke="#8fa070" stroke-width="0.6" />
<circle cx="99.60" cy="272.80" r="1.9" fill="#178a3a" />
<line x1="116.90" y1="279.60" x2="164.38" y2="283.39" stroke="#8e8e8a" stroke-width="0.75" />
<line x1="116.90" y1="279.60" x2="162.87" y2="291.12" stroke="#8e8e8a" stroke-width="0.75" />
<line x1="116.90" y1="279.60" x2="160.31" y2="298.58" stroke="#8e8e8a" stroke-width="0.75" />
<line x1="116.90" y1="279.60" x2="156.98" y2="305.18" stroke="#8e8e8a" stroke-width="0.75" />
<line x1="116.90" y1="279.60" x2="152.82" y2="311.28" stroke="#8e8e8a" stroke-width="0.75" />
<line x1="116.90" y1="279.60" x2="147.55" y2="317.14" stroke="#8e8e8a" stroke-width="0.75" />
<line x1="116.90" y1="279.60" x2="141.11" y2="322.50" stroke="#8e8e8a" stroke-width="0.75" />
<circle cx="116.90" cy="279.60" r="1.5" fill="#b8741a" />
<circle cx="114.60" cy="282.60" r="1.4" fill="#c8d048" />
<line x1="114.80" y1="283.10" x2="140.20" y2="321.20" stroke="#b8c060" stroke-width="0.7" />
<line x1="116.50" y1="292.30" x2="128.70" y2="327.50" stroke="#9fb0c0" stroke-width="0.6" />
<circle cx="114.80" cy="283.10" r="1.6" fill="#c4d044" />
<circle cx="118.80" cy="291.20" r="1.6" fill="#c4d044" />
<circle cx="124.00" cy="298.70" r="1.6" fill="#c4d044" />
<circle cx="129.80" cy="306.20" r="1.6" fill="#c4d044" />
<circle cx="135.00" cy="314.20" r="1.6" fill="#c4d044" />
<circle cx="140.20" cy="321.20" r="1.6" fill="#c4d044" />
<circle cx="116.50" cy="292.30" r="1.6" fill="#c4d044" />
<circle cx="121.20" cy="300.40" r="1.6" fill="#c4d044" />
<circle cx="125.20" cy="318.80" r="1.6" fill="#c4d044" />
<circle cx="128.70" cy="327.50" r="1.6" fill="#c4d044" />
<line x1="125.20" y1="308.29" x2="135.53" y2="327.71" stroke="#d8261b" stroke-width="1.3" stroke-linecap="round"/>
<circle cx="125.20" cy="308.29" r="1.5" fill="#d8261b" />
<circle cx="131.77" cy="320.65" r="1.2" fill="#d8261b" />
<path d="M113.52,313.64 A37.5,37.5 0 0 1 101.79,313.43" fill="none" stroke="#8a2420" stroke-width="1.1"/>
<line x1="106.34" y1="313.95" x2="105.26" y2="334.42" stroke="#d8261b" stroke-width="1.4" stroke-linecap="round"/>
<circle cx="105.79" cy="324.43" r="1.3" fill="#d8261b" />
<circle cx="105.26" cy="334.42" r="1.2" fill="#d8261b" />
<line x1="102.43" y1="313.54" x2="99.23" y2="333.79" stroke="#d8261b" stroke-width="1.4" stroke-linecap="round"/>
<circle cx="100.79" cy="323.91" r="1.3" fill="#d8261b" />
<circle cx="99.23" cy="333.79" r="1.2" fill="#d8261b" />
<line x1="113.00" y1="321.25" x2="114.36" y2="334.18" stroke="#d8261b" stroke-width="1.4" stroke-linecap="round"/>
<circle cx="113.00" cy="321.25" r="1.3" fill="#d8261b" />
<circle cx="114.15" cy="332.19" r="1.1" fill="#d8261b" />
<line x1="116.71" y1="302.37" x2="123.11" y2="329.89" stroke="#d8261b" stroke-width="1.3" stroke-linecap="round"/>
<circle cx="116.71" cy="302.37" r="1.4" fill="#d8261b" />
<circle cx="121.53" cy="322.64" r="1.2" fill="#d8261b" />
<circle cx="123.11" cy="329.89" r="1.1" fill="#d8261b" />
<circle cx="130.11" cy="339.85" r="0.9" fill="#f09a9a" />
<circle cx="125.64" cy="341.22" r="0.9" fill="#f09a9a" />
<circle cx="119.93" cy="342.48" r="0.9" fill="#f09a9a" />
<circle cx="114.14" cy="343.25" r="0.9" fill="#f09a9a" />
<circle cx="109.47" cy="343.49" r="0.9" fill="#f09a9a" />
<circle cx="103.63" cy="343.34" r="0.9" fill="#f09a9a" />
<circle cx="98.98" cy="342.85" r="0.9" fill="#f09a9a" />
<path d="M97.17,321.13 A46,46 0 0 1 76.35,309.59" fill="none" stroke="#5a3030" stroke-width="0.8"/>
<polyline points="72.34,313.09 79.84,324.62 82.10,314.19 84.29,322.62" fill="none" stroke="#d8261b" stroke-width="1.3" stroke-linejoin="round"/>
<polygon points="93.13,320.56 83.75,326.83 95.16,329.19" fill="#efe0a0" stroke="#c8c040" stroke-width="0.7"/>
<circle cx="94.40" cy="330.23" r="0.8" fill="#d8261b" />
<circle cx="92.07" cy="329.57" r="0.8" fill="#d8261b" />
<circle cx="89.32" cy="328.65" r="0.8" fill="#d8261b" />
<circle cx="86.61" cy="327.59" r="0.8" fill="#d8261b" />
<circle cx="84.41" cy="326.59" r="0.8" fill="#d8261b" />
<circle cx="93.13" cy="320.56" r="1.2" fill="#c8d048" />
<circle cx="79.61" cy="313.22" r="1.2" fill="#c8d048" />
<circle cx="67.70" cy="310.57" r="1.2" fill="#c8d048" />
<line x1="87.33" y1="307.59" x2="82.58" y2="314.64" stroke="#c9b864" stroke-width="0.7" stroke-linecap="round"/>
<line x1="74.12" y1="307.28" x2="64.64" y2="313.14" stroke="#c9b864" stroke-width="0.7" stroke-linecap="round"/>
<circle cx="79.84" cy="324.62" r="1.2" fill="#d8261b" />
<circle cx="72.34" cy="313.09" r="1.1" fill="#d8261b" />
<line x1="77.89" y1="298.44" x2="60.45" y2="311.01" stroke="#1a7d36" stroke-width="1.3" stroke-linecap="round"/>
<line x1="60.45" y1="311.01" x2="55.58" y2="314.52" stroke="#a5a5a0" stroke-width="0.6" stroke-linecap="round"/>
<circle cx="77.89" cy="298.44" r="1.4" fill="#178a3a" />
<circle cx="83.91" cy="289.20" r="1.6" fill="#d8261b" />
<circle cx="90.20" cy="278.40" r="1.3" fill="#c8d048" />
<line x1="90.20" y1="278.40" x2="100.42" y2="275.11" stroke="#b0b080" stroke-width="0.5" stroke-linecap="round"/>
<line x1="71.26" y1="282.37" x2="62.37" y2="283.77" stroke="#d8261b" stroke-width="1.3" stroke-linecap="round"/>
<line x1="62.37" y1="283.77" x2="52.55" y2="264.65" stroke="#d8261b" stroke-width="1.4" stroke-linecap="round"/>
<line x1="62.37" y1="283.77" x2="60.43" y2="303.58" stroke="#d8261b" stroke-width="1.4" stroke-linecap="round"/>
<circle cx="62.37" cy="283.77" r="1.4" fill="#d8261b" />
<circle cx="57.38" cy="305.31" r="0.75" fill="#d6c23a" />
<circle cx="56.36" cy="303.42" r="0.75" fill="#d6c23a" />
<circle cx="55.41" cy="301.50" r="0.75" fill="#d6c23a" />
<circle cx="54.53" cy="299.55" r="0.75" fill="#d6c23a" />
<circle cx="53.72" cy="297.56" r="0.75" fill="#d6c23a" />
<circle cx="52.99" cy="295.55" r="0.75" fill="#d6c23a" />
<circle cx="52.33" cy="293.51" r="0.75" fill="#d6c23a" />
<circle cx="51.74" cy="291.44" r="0.75" fill="#d6c23a" />
<circle cx="51.23" cy="289.36" r="0.75" fill="#d6c23a" />
<circle cx="50.80" cy="287.26" r="0.75" fill="#d6c23a" />
<circle cx="50.44" cy="285.15" r="0.75" fill="#d6c23a" />
<circle cx="50.16" cy="283.02" r="0.75" fill="#d6c23a" />
<circle cx="49.96" cy="280.89" r="0.75" fill="#d6c23a" />
<circle cx="49.84" cy="278.75" r="0.75" fill="#d6c23a" />
<circle cx="49.80" cy="276.60" r="0.75" fill="#d6c23a" />
<circle cx="49.84" cy="274.46" r="0.75" fill="#d6c23a" />
<circle cx="49.95" cy="272.32" r="0.75" fill="#d6c23a" />
<circle cx="50.14" cy="270.18" r="0.75" fill="#d6c23a" />
<circle cx="50.41" cy="268.06" r="0.75" fill="#d6c23a" />
<circle cx="50.76" cy="265.94" r="0.75" fill="#d6c23a" />
<circle cx="52.17" cy="286.40" r="1.3" fill="#178a3a" />
<circle cx="57.56" cy="294.97" r="1.0" fill="#d8261b" />
<circle cx="56.39" cy="291.38" r="1.0" fill="#d8261b" />
<circle cx="54.33" cy="278.38" r="1.0" fill="#d8261b" />
<circle cx="54.43" cy="272.73" r="1.0" fill="#d8261b" />
<line x1="72.44" y1="265.54" x2="49.97" y2="258.67" stroke="#c9a58a" stroke-width="0.7" stroke-linecap="round"/>
<circle cx="66.22" cy="263.64" r="1.0" fill="#c8d048" />
<circle cx="55.70" cy="260.42" r="0.9" fill="#d8c070" />
<circle cx="48.05" cy="258.08" r="0.9" fill="#e8a0a0" />
<line x1="73.29" y1="263.06" x2="51.35" y2="254.64" stroke="#c9a58a" stroke-width="0.7" stroke-linecap="round"/>
<circle cx="67.22" cy="260.73" r="1.0" fill="#c8d048" />
<circle cx="56.95" cy="256.79" r="0.9" fill="#d8c070" />
<circle cx="49.48" cy="253.92" r="0.9" fill="#e8a0a0" />
<line x1="74.31" y1="260.65" x2="53.02" y2="250.72" stroke="#c9a58a" stroke-width="0.7" stroke-linecap="round"/>
<circle cx="68.42" cy="257.90" r="1.0" fill="#c8d048" />
<circle cx="58.45" cy="253.26" r="0.9" fill="#d8c070" />
<circle cx="51.20" cy="249.88" r="0.9" fill="#e8a0a0" />
<line x1="75.50" y1="258.32" x2="54.95" y2="246.93" stroke="#c9a58a" stroke-width="0.7" stroke-linecap="round"/>
<circle cx="69.82" cy="255.17" r="1.0" fill="#c8d048" />
<circle cx="60.20" cy="249.84" r="0.9" fill="#d8c070" />
<circle cx="53.20" cy="245.96" r="0.9" fill="#e8a0a0" />
<line x1="76.85" y1="256.08" x2="57.14" y2="243.28" stroke="#c9a58a" stroke-width="0.7" stroke-linecap="round"/>
<circle cx="71.40" cy="252.54" r="1.0" fill="#c8d048" />
<circle cx="62.17" cy="246.54" r="0.9" fill="#d8c070" />
<circle cx="55.46" cy="242.19" r="0.9" fill="#e8a0a0" />
<line x1="78.35" y1="253.93" x2="59.58" y2="239.79" stroke="#c9a58a" stroke-width="0.7" stroke-linecap="round"/>
<circle cx="73.16" cy="250.02" r="1.0" fill="#c8d048" />
<circle cx="64.38" cy="243.40" r="0.9" fill="#d8c070" />
<circle cx="57.99" cy="238.59" r="0.9" fill="#e8a0a0" />
<line x1="80.00" y1="251.90" x2="62.26" y2="236.48" stroke="#c9a58a" stroke-width="0.7" stroke-linecap="round"/>
<circle cx="75.09" cy="247.63" r="1.0" fill="#c8d048" />
<circle cx="66.79" cy="240.42" r="0.9" fill="#d8c070" />
<circle cx="60.75" cy="235.17" r="0.9" fill="#e8a0a0" />
<line x1="81.78" y1="249.98" x2="65.17" y2="233.37" stroke="#c9a58a" stroke-width="0.7" stroke-linecap="round"/>
<circle cx="77.19" cy="245.39" r="1.0" fill="#c8d048" />
<circle cx="69.41" cy="237.61" r="0.9" fill="#d8c070" />
<circle cx="63.75" cy="231.95" r="0.9" fill="#e8a0a0" />
<line x1="83.62" y1="247.60" x2="71.93" y2="233.92" stroke="#d8261b" stroke-width="1.35" stroke-linecap="round"/>
<circle cx="71.93" cy="233.92" r="1.2" fill="#d8261b" />
<circle cx="77.78" cy="240.76" r="1.1" fill="#d8261b" />
<circle cx="69.01" cy="230.50" r="1.0" fill="#eeb0a8" />
<line x1="85.96" y1="245.76" x2="75.38" y2="231.20" stroke="#d8261b" stroke-width="1.35" stroke-linecap="round"/>
<circle cx="75.38" cy="231.20" r="1.2" fill="#d8261b" />
<circle cx="80.67" cy="238.48" r="1.1" fill="#d8261b" />
<circle cx="72.74" cy="227.55" r="1.0" fill="#eeb0a8" />
<line x1="88.45" y1="244.10" x2="79.04" y2="228.75" stroke="#d8261b" stroke-width="1.35" stroke-linecap="round"/>
<circle cx="79.04" cy="228.75" r="1.2" fill="#d8261b" />
<circle cx="83.74" cy="236.43" r="1.1" fill="#d8261b" />
<circle cx="76.69" cy="224.92" r="1.0" fill="#eeb0a8" />
<line x1="91.05" y1="242.64" x2="82.88" y2="226.60" stroke="#d8261b" stroke-width="1.35" stroke-linecap="round"/>
<circle cx="82.88" cy="226.60" r="1.2" fill="#d8261b" />
<circle cx="86.96" cy="234.62" r="1.1" fill="#d8261b" />
<circle cx="80.83" cy="222.59" r="1.0" fill="#eeb0a8" />
<path d="M78.43,241.52 A46,46 0 0 1 87.42,235.51" fill="none" stroke="#d8261b" stroke-width="1.0"/>
<circle cx="89.44" cy="244.09" r="1.4" fill="#c8d048" />
<circle cx="86.42" cy="236.04" r="1.2" fill="#c8d048" />
<circle cx="80.58" cy="227.50" r="1.3" fill="#c8d048" />
<circle cx="97.86" cy="251.06" r="1.8" fill="#178a3a" />
<line x1="97.86" y1="251.06" x2="100.63" y2="239.79" stroke="#1a7d36" stroke-width="1.1" stroke-linecap="round"/>
<circle cx="100.63" cy="239.79" r="1.8" fill="#178a3a" />
<line x1="100.63" y1="239.79" x2="95.98" y2="231.77" stroke="#1a7d36" stroke-width="1.1" stroke-linecap="round"/>
<line x1="100.63" y1="239.79" x2="103.41" y2="230.76" stroke="#1a7d36" stroke-width="1.1" stroke-linecap="round"/>
<line x1="95.98" y1="231.77" x2="91.71" y2="225.43" stroke="#1a7d36" stroke-width="1.1" stroke-linecap="round"/>
<line x1="95.98" y1="231.77" x2="97.14" y2="223.97" stroke="#1a7d36" stroke-width="1.1" stroke-linecap="round"/>
<line x1="103.41" y1="230.76" x2="100.78" y2="223.03" stroke="#1a7d36" stroke-width="1.0" stroke-linecap="round"/>
<line x1="91.71" y1="225.43" x2="97.14" y2="223.97" stroke="#1a7d36" stroke-width="1.0" stroke-linecap="round"/>
<circle cx="95.98" cy="231.77" r="1.5" fill="#178a3a" />
<circle cx="91.71" cy="225.43" r="1.5" fill="#178a3a" />
<circle cx="97.14" cy="223.97" r="1.5" fill="#178a3a" />
<circle cx="103.41" cy="230.76" r="1.5" fill="#178a3a" />
<circle cx="100.78" cy="223.03" r="1.5" fill="#178a3a" />
<circle cx="92.11" cy="221.85" r="1.3" fill="#c8d048" />
<circle cx="94.99" cy="221.07" r="1.3" fill="#c8d048" />
<circle cx="97.91" cy="220.45" r="1.3" fill="#c8d048" />
<circle cx="104.98" cy="222.20" r="1.3" fill="#d8261b" />
<circle cx="86.59" cy="218.43" r="1.0" fill="#b8d8b8" />
<circle cx="109.57" cy="258.34" r="1.5" fill="#d8261b" />
<line x1="110.04" y1="258.38" x2="113.86" y2="218.77" stroke="#d8261b" stroke-width="1.3" stroke-linecap="round"/>
<circle cx="111.18" cy="246.64" r="1.3" fill="#d8261b" />
<circle cx="112.52" cy="232.70" r="1.3" fill="#d8261b" />
<circle cx="113.86" cy="218.77" r="1.3" fill="#d8261b" />
<line x1="113.86" y1="218.77" x2="111.54" y2="214.58" stroke="#d8261b" stroke-width="1.0" stroke-linecap="round"/>
<line x1="113.86" y1="218.77" x2="116.93" y2="215.10" stroke="#d8261b" stroke-width="1.0" stroke-linecap="round"/>
<circle cx="111.57" cy="214.09" r="1.3" fill="#e8a030" />
<circle cx="117.00" cy="214.61" r="1.3" fill="#e8a030" />
<line x1="114.07" y1="259.24" x2="127.97" y2="217.70" stroke="#c0c070" stroke-width="0.6" stroke-linecap="round"/>
<circle cx="119.72" cy="242.36" r="1.1" fill="#c8d048" />
<circle cx="123.53" cy="230.98" r="1.1" fill="#c8d048" />
<circle cx="127.34" cy="219.60" r="1.1" fill="#c8d048" />
<circle cx="121.17" cy="263.63" r="1.5" fill="#d8261b" />
<line x1="116.28" y1="260.14" x2="138.11" y2="215.38" stroke="#d8261b" stroke-width="1.2" stroke-linecap="round"/>
<circle cx="122.77" cy="246.84" r="1.2" fill="#d8261b" />
<circle cx="130.22" cy="231.56" r="1.2" fill="#d8261b" />
<line x1="121.17" y1="263.63" x2="129.85" y2="257.10" stroke="#d8261b" stroke-width="1.2" stroke-linecap="round"/>
<circle cx="129.85" cy="257.10" r="1.3" fill="#d8261b" />
<line x1="129.85" y1="257.10" x2="136.89" y2="252.08" stroke="#d8261b" stroke-width="1.2" stroke-linecap="round"/>
<circle cx="136.89" cy="252.08" r="1.4" fill="#d8261b" />
<line x1="136.89" y1="252.08" x2="141.02" y2="236.09" stroke="#d8261b" stroke-width="1.5" stroke-linecap="round"/>
<line x1="136.89" y1="252.08" x2="153.33" y2="250.50" stroke="#d8261b" stroke-width="1.5" stroke-linecap="round"/>
<path d="M139.67,242.86 A46,46 0 0 1 146.44,250.78" fill="none" stroke="#d8261b" stroke-width="1.4"/>
<path d="M137.66,232.98 A52.5,52.5 0 0 1 143.43,237.48" fill="none" stroke="#d8261b" stroke-width="1.3"/>
<path d="M151.82,247.14 A52.5,52.5 0 0 1 155.49,253.49" fill="none" stroke="#d8261b" stroke-width="1.3"/>
<line x1="141.02" y1="236.09" x2="143.21" y2="230.18" stroke="#d8261b" stroke-width="1.1" stroke-linecap="round"/>
<line x1="141.02" y1="236.09" x2="147.86" y2="234.08" stroke="#d8261b" stroke-width="1.1" stroke-linecap="round"/>
<line x1="153.33" y1="250.50" x2="156.94" y2="244.91" stroke="#d8261b" stroke-width="1.1" stroke-linecap="round"/>
<line x1="153.33" y1="250.50" x2="159.98" y2="250.17" stroke="#d8261b" stroke-width="1.1" stroke-linecap="round"/>
<line x1="143.02" y1="246.32" x2="150.43" y2="241.15" stroke="#1a7d36" stroke-width="1.2" stroke-linecap="round"/>
<circle cx="150.43" cy="241.15" r="1.3" fill="#178a3a" />
<circle cx="141.02" cy="236.09" r="1.2" fill="#d8261b" />
<circle cx="153.33" cy="250.50" r="1.2" fill="#d8261b" />
<circle cx="139.67" cy="242.86" r="1.2" fill="#d8261b" />
<circle cx="146.44" cy="250.78" r="1.2" fill="#d8261b" />
<circle cx="147.86" cy="234.08" r="1.2" fill="#d8261b" />
<circle cx="156.94" cy="244.91" r="1.2" fill="#d8261b" />
<circle cx="142.14" cy="228.17" r="1.3" fill="#e8a030" />
<circle cx="145.65" cy="229.54" r="1.3" fill="#e8a030" />
<circle cx="136.08" cy="233.73" r="1.3" fill="#e8a030" />
<circle cx="163.11" cy="252.10" r="1.3" fill="#e8a030" />
<circle cx="159.98" cy="250.17" r="1.3" fill="#e8a030" />
<circle cx="127.15" cy="272.84" r="1.6" fill="#178a3a" />
<line x1="127.15" y1="272.84" x2="138.01" y2="272.32" stroke="#1a7d36" stroke-width="1.2" stroke-linecap="round"/>
<line x1="138.01" y1="272.32" x2="169.70" y2="267.87" stroke="#1a7d36" stroke-width="1.1" stroke-linecap="round"/>
<line x1="127.15" y1="272.84" x2="166.29" y2="275.69" stroke="#1a7d36" stroke-width="1.2" stroke-linecap="round"/>
<line x1="138.01" y1="272.32" x2="166.52" y2="261.98" stroke="#1a7d36" stroke-width="1.0" stroke-linecap="round"/>
<circle cx="138.01" cy="272.32" r="1.3" fill="#178a3a" />
<circle cx="137.21" cy="274.22" r="1.3" fill="#178a3a" />
<circle cx="146.76" cy="274.69" r="1.3" fill="#178a3a" />
<circle cx="156.28" cy="275.16" r="1.3" fill="#178a3a" />
<circle cx="166.29" cy="275.69" r="1.3" fill="#178a3a" />
<circle cx="150.99" cy="265.86" r="1.3" fill="#178a3a" />
<circle cx="162.64" cy="262.95" r="1.3" fill="#178a3a" />
<circle cx="169.70" cy="267.87" r="1.3" fill="#178a3a" />
<circle cx="149.66" cy="269.21" r="1.1" fill="#c8d048" />
<rect x="27.40" y="356.00" width="4.90" height="4.90" fill="#1e9446" />
<text x="35.40" y="360.70" font-size="6.65" text-anchor="start" fill="#3a3a3a" font-weight="normal" >a: Bifidobacteriaceae</text>
<rect x="27.40" y="364.00" width="4.90" height="4.90" fill="#1e9446" />
<text x="35.40" y="368.70" font-size="6.65" text-anchor="start" fill="#3a3a3a" font-weight="normal" >b: Bifidobacteriales</text>
<rect x="27.40" y="372.01" width="4.90" height="4.90" fill="#1e9446" />
<text x="35.40" y="376.71" font-size="6.65" text-anchor="start" fill="#3a3a3a" font-weight="normal" >c: Actinobacteria</text>
<rect x="27.40" y="380.01" width="4.90" height="4.90" fill="#1e9446" />
<text x="35.40" y="384.71" font-size="6.65" text-anchor="start" fill="#3a3a3a" font-weight="normal" >d: Coriobacteriales</text>
<rect x="27.40" y="388.02" width="4.90" height="4.90" fill="#1e9446" />
<text x="35.40" y="392.72" font-size="6.65" text-anchor="start" fill="#3a3a3a" font-weight="normal" >e: Coriobacteriia</text>
<rect x="27.40" y="396.02" width="4.90" height="4.90" fill="#e5532a" />
<text x="35.40" y="400.72" font-size="6.65" text-anchor="start" fill="#3a3a3a" font-weight="normal" >f: Marinifilaceae</text>
<rect x="27.40" y="404.03" width="4.90" height="4.90" fill="#e5532a" />
<text x="35.40" y="408.73" font-size="6.65" text-anchor="start" fill="#3a3a3a" font-weight="normal" >g: Muribaculaceae</text>
<rect x="27.40" y="412.04" width="4.90" height="4.90" fill="#1e9446" />
<text x="35.40" y="416.74" font-size="6.65" text-anchor="start" fill="#3a3a3a" font-weight="normal" >h: Prevotellaceae</text>
<rect x="27.40" y="420.04" width="4.90" height="4.90" fill="#e5532a" />
<text x="35.40" y="424.74" font-size="6.65" text-anchor="start" fill="#3a3a3a" font-weight="normal" >i: Rikenellaceae</text>
<rect x="27.40" y="428.05" width="4.90" height="4.90" fill="#e5532a" />
<text x="35.40" y="432.75" font-size="6.65" text-anchor="start" fill="#3a3a3a" font-weight="normal" >j: Bacteroidales</text>
<rect x="27.40" y="436.05" width="4.90" height="4.90" fill="#e5532a" />
<text x="35.40" y="440.75" font-size="6.65" text-anchor="start" fill="#3a3a3a" font-weight="normal" >k: Bacteroidia</text>
<rect x="27.40" y="444.06" width="4.90" height="4.90" fill="#e5532a" />
<text x="35.40" y="448.75" font-size="6.65" text-anchor="start" fill="#3a3a3a" font-weight="normal" >l: Helicobacteraceae</text>
<rect x="27.40" y="452.06" width="4.90" height="4.90" fill="#e5532a" />
<text x="35.40" y="456.76" font-size="6.65" text-anchor="start" fill="#3a3a3a" font-weight="normal" >m: Campylobacterales</text>
<rect x="27.40" y="460.06" width="4.90" height="4.90" fill="#e5532a" />
<text x="35.40" y="464.76" font-size="6.65" text-anchor="start" fill="#3a3a3a" font-weight="normal" >n: Campylobacteria</text>
<rect x="27.40" y="468.07" width="4.90" height="4.90" fill="#e5532a" />
<text x="35.40" y="472.77" font-size="6.65" text-anchor="start" fill="#3a3a3a" font-weight="normal" >o: Desulfovibrionaceae</text>
<rect x="27.40" y="476.08" width="4.90" height="4.90" fill="#e5532a" />
<text x="35.40" y="480.78" font-size="6.65" text-anchor="start" fill="#3a3a3a" font-weight="normal" >p: Desulfovibrionales</text>
<rect x="27.40" y="484.08" width="4.90" height="4.90" fill="#e5532a" />
<text x="35.40" y="488.78" font-size="6.65" text-anchor="start" fill="#3a3a3a" font-weight="normal" >q: Desulfovibrionia</text>
<rect x="27.40" y="492.09" width="4.90" height="4.90" fill="#1e9446" />
<text x="35.40" y="496.79" font-size="6.65" text-anchor="start" fill="#3a3a3a" font-weight="normal" >r: Erysipelotrichaceae</text>
<rect x="27.40" y="500.09" width="4.90" height="4.90" fill="#1e9446" />
<text x="35.40" y="504.79" font-size="6.65" text-anchor="start" fill="#3a3a3a" font-weight="normal" >s: Erysipelotrichales</text>
<rect x="27.40" y="508.10" width="4.90" height="4.90" fill="#e5532a" />
<text x="35.40" y="512.79" font-size="6.65" text-anchor="start" fill="#3a3a3a" font-weight="normal" >t: Enterococcaceae</text>
<rect x="116.70" y="356.00" width="4.90" height="4.90" fill="#e5532a" />
<text x="125.10" y="360.70" font-size="6.65" text-anchor="start" fill="#3a3a3a" font-weight="normal" >u: Streptococcaceae</text>
<rect x="116.70" y="364.00" width="4.90" height="4.90" fill="#e5532a" />
<text x="125.10" y="368.70" font-size="6.65" text-anchor="start" fill="#3a3a3a" font-weight="normal" >v: RF39</text>
<rect x="116.70" y="372.01" width="4.90" height="4.90" fill="#e5532a" />
<text x="125.10" y="376.71" font-size="6.65" text-anchor="start" fill="#3a3a3a" font-weight="normal" >w: RF39</text>
<rect x="116.70" y="380.01" width="4.90" height="4.90" fill="#1e9446" />
<text x="125.10" y="384.71" font-size="6.65" text-anchor="start" fill="#3a3a3a" font-weight="normal" >x: Bacilli</text>
<rect x="116.70" y="388.02" width="4.90" height="4.90" fill="#e5532a" />
<text x="125.10" y="392.72" font-size="6.65" text-anchor="start" fill="#3a3a3a" font-weight="normal" >y: Lachnospiraceae</text>
<rect x="116.70" y="396.02" width="4.90" height="4.90" fill="#e5532a" />
<text x="125.10" y="400.72" font-size="6.65" text-anchor="start" fill="#3a3a3a" font-weight="normal" >z: Lachnospirales</text>
<rect x="116.70" y="404.03" width="4.90" height="4.90" fill="#1e9446" />
<text x="125.10" y="408.73" font-size="6.65" text-anchor="start" fill="#3a3a3a" font-weight="normal" >a0: Monoglobaceae</text>
<rect x="116.70" y="412.04" width="4.90" height="4.90" fill="#1e9446" />
<text x="125.10" y="416.74" font-size="6.65" text-anchor="start" fill="#3a3a3a" font-weight="normal" >a1: Monoglobales</text>
<rect x="116.70" y="420.04" width="4.90" height="4.90" fill="#e5532a" />
<text x="125.10" y="424.74" font-size="6.65" text-anchor="start" fill="#3a3a3a" font-weight="normal" >a2: Oscillospiraceae</text>
<rect x="116.70" y="428.05" width="4.90" height="4.90" fill="#e5532a" />
<text x="125.10" y="432.75" font-size="6.65" text-anchor="start" fill="#3a3a3a" font-weight="normal" >a3: UCG_010</text>
<rect x="116.70" y="436.05" width="4.90" height="4.90" fill="#e5532a" />
<text x="125.10" y="440.75" font-size="6.65" text-anchor="start" fill="#3a3a3a" font-weight="normal" >a4: Peptococcaceae</text>
<rect x="116.70" y="444.06" width="4.90" height="4.90" fill="#e5532a" />
<text x="125.10" y="448.75" font-size="6.65" text-anchor="start" fill="#3a3a3a" font-weight="normal" >a5: Peptococcales</text>
<rect x="116.70" y="452.06" width="4.90" height="4.90" fill="#e5532a" />
<text x="125.10" y="456.76" font-size="6.65" text-anchor="start" fill="#3a3a3a" font-weight="normal" >a6: Peptostreptococcaceae</text>
<rect x="116.70" y="460.06" width="4.90" height="4.90" fill="#e5532a" />
<text x="125.10" y="464.76" font-size="6.65" text-anchor="start" fill="#3a3a3a" font-weight="normal" >a7: Peptostreptococcales</text>
<rect x="116.70" y="468.07" width="4.90" height="4.90" fill="#e5532a" />
<text x="125.10" y="472.77" font-size="6.65" text-anchor="start" fill="#3a3a3a" font-weight="normal" >a8: Clostridia</text>
<rect x="116.70" y="476.08" width="4.90" height="4.90" fill="#e5532a" />
<text x="125.10" y="480.78" font-size="6.65" text-anchor="start" fill="#3a3a3a" font-weight="normal" >a9: uncultured</text>
<rect x="116.70" y="484.08" width="4.90" height="4.90" fill="#e5532a" />
<text x="125.10" y="488.78" font-size="6.65" text-anchor="start" fill="#3a3a3a" font-weight="normal" >b0: Rhodospirillales</text>
<rect x="116.70" y="492.09" width="4.90" height="4.90" fill="#e5532a" />
<text x="125.10" y="496.79" font-size="6.65" text-anchor="start" fill="#3a3a3a" font-weight="normal" >b1: Alphaproteobacteria</text>
<rect x="116.70" y="500.09" width="4.90" height="4.90" fill="#e5532a" />
<text x="125.10" y="504.79" font-size="6.65" text-anchor="start" fill="#3a3a3a" font-weight="normal" >b2: Enterobacteriaceae</text>
<rect x="116.70" y="508.10" width="4.90" height="4.90" fill="#e5532a" />
<text x="125.10" y="512.79" font-size="6.65" text-anchor="start" fill="#3a3a3a" font-weight="normal" >b3: Enterobacterales</text>
<text x="8.40" y="189.50" font-size="11.5" text-anchor="start" fill="#111" font-weight="bold" >F</text>
<circle cx="30.40" cy="200.00" r="3.0" fill="#17973f" />
<text x="36.90" y="202.20" font-size="6.4" text-anchor="start" fill="#3a3a3a" font-weight="normal" textLength="24.4" lengthAdjust="spacingAndGlyphs">CPX-351</text>
<circle cx="30.40" cy="208.20" r="3.0" fill="#e2491c" />
<text x="36.90" y="210.60" font-size="6.4" text-anchor="start" fill="#3a3a3a" font-weight="normal" textLength="14.4" lengthAdjust="spacingAndGlyphs">"7+3"</text>
<text x="236.80" y="189.60" font-size="11.5" text-anchor="start" fill="#111" font-weight="bold" >G</text>
<rect x="428.80" y="196.90" width="75.30" height="6.20" fill="#0f9a48" />
<line x1="345.20" y1="200.00" x2="348.20" y2="200.00" stroke="#2b2b2b" stroke-width="0.8" />
<text x="341.60" y="202.20" font-size="6.55" text-anchor="end" fill="#3a3a3a" font-weight="normal" >g_Lactobacillus</text>
<rect x="428.80" y="204.65" width="71.80" height="6.20" fill="#0f9a48" />
<line x1="345.20" y1="207.75" x2="348.20" y2="207.75" stroke="#2b2b2b" stroke-width="0.8" />
<text x="341.60" y="209.99" font-size="6.55" text-anchor="end" fill="#3a3a3a" font-weight="normal" >g_Turicibacter</text>
<rect x="428.80" y="212.41" width="62.10" height="6.20" fill="#0f9a48" />
<line x1="345.20" y1="215.51" x2="348.20" y2="215.51" stroke="#2b2b2b" stroke-width="0.8" />
<text x="341.60" y="217.77" font-size="6.55" text-anchor="end" fill="#3a3a3a" font-weight="normal" >g_Bifidobacterium</text>
<rect x="428.80" y="220.16" width="61.40" height="6.20" fill="#0f9a48" />
<line x1="345.20" y1="223.26" x2="348.20" y2="223.26" stroke="#2b2b2b" stroke-width="0.8" />
<text x="341.60" y="225.56" font-size="6.55" text-anchor="end" fill="#3a3a3a" font-weight="normal" >g_Prevotellaceae_NK3B31_group</text>
<rect x="428.80" y="227.91" width="58.30" height="6.20" fill="#0f9a48" />
<line x1="345.20" y1="231.01" x2="348.20" y2="231.01" stroke="#2b2b2b" stroke-width="0.8" />
<text x="341.60" y="233.35" font-size="6.55" text-anchor="end" fill="#3a3a3a" font-weight="normal" >g_Monoglobus</text>
<rect x="428.80" y="235.67" width="56.90" height="6.20" fill="#0f9a48" />
<line x1="345.20" y1="238.77" x2="348.20" y2="238.77" stroke="#2b2b2b" stroke-width="0.8" />
<text x="341.60" y="241.14" font-size="6.55" text-anchor="end" fill="#3a3a3a" font-weight="normal" >g_Lachnoclostridium</text>
<rect x="428.80" y="243.42" width="55.20" height="6.20" fill="#0f9a48" />
<line x1="345.20" y1="246.52" x2="348.20" y2="246.52" stroke="#2b2b2b" stroke-width="0.8" />
<text x="341.60" y="248.92" font-size="6.55" text-anchor="end" fill="#3a3a3a" font-weight="normal" >g_Lachnospiraceae_FCS020_group</text>
<rect x="428.80" y="251.17" width="54.20" height="6.20" fill="#0f9a48" />
<line x1="345.20" y1="254.27" x2="348.20" y2="254.27" stroke="#2b2b2b" stroke-width="0.8" />
<text x="341.60" y="256.71" font-size="6.55" text-anchor="end" fill="#3a3a3a" font-weight="normal" >g_A2</text>
<rect x="428.80" y="258.92" width="53.50" height="6.20" fill="#0f9a48" />
<line x1="345.20" y1="262.02" x2="348.20" y2="262.02" stroke="#2b2b2b" stroke-width="0.8" />
<text x="341.60" y="264.50" font-size="6.55" text-anchor="end" fill="#3a3a3a" font-weight="normal" >g_Bacteroides</text>
<rect x="428.80" y="266.68" width="53.50" height="6.20" fill="#0f9a48" />
<line x1="345.20" y1="269.78" x2="348.20" y2="269.78" stroke="#2b2b2b" stroke-width="0.8" />
<text x="341.60" y="272.29" font-size="6.55" text-anchor="end" fill="#3a3a3a" font-weight="normal" >g_Enterorhabdus</text>
<rect x="387.10" y="274.43" width="41.70" height="6.20" fill="#e8490f" />
<line x1="345.20" y1="277.53" x2="348.20" y2="277.53" stroke="#2b2b2b" stroke-width="0.8" />
<text x="341.60" y="280.07" font-size="6.55" text-anchor="end" fill="#3a3a3a" font-weight="normal" >g_Enterococcus</text>
<rect x="386.20" y="282.18" width="42.60" height="6.20" fill="#e8490f" />
<line x1="345.20" y1="285.28" x2="348.20" y2="285.28" stroke="#2b2b2b" stroke-width="0.8" />
<text x="341.60" y="287.86" font-size="6.55" text-anchor="end" fill="#3a3a3a" font-weight="normal" >g_Helicobacter</text>
<rect x="385.80" y="289.94" width="43.00" height="6.20" fill="#e8490f" />
<line x1="345.20" y1="293.04" x2="348.20" y2="293.04" stroke="#2b2b2b" stroke-width="0.8" />
<text x="341.60" y="295.65" font-size="6.55" text-anchor="end" fill="#3a3a3a" font-weight="normal" >g_Eisenbergiella</text>
<rect x="384.60" y="297.69" width="44.20" height="6.20" fill="#e8490f" />
<line x1="345.20" y1="300.79" x2="348.20" y2="300.79" stroke="#2b2b2b" stroke-width="0.8" />
<text x="341.60" y="303.44" font-size="6.55" text-anchor="end" fill="#3a3a3a" font-weight="normal" >g_Lactococcus</text>
<rect x="383.80" y="305.44" width="45.00" height="6.20" fill="#e8490f" />
<line x1="345.20" y1="308.54" x2="348.20" y2="308.54" stroke="#2b2b2b" stroke-width="0.8" />
<text x="341.60" y="311.22" font-size="6.55" text-anchor="end" fill="#3a3a3a" font-weight="normal" >g_Ruminiclostridium</text>
<rect x="383.30" y="313.19" width="45.50" height="6.20" fill="#e8490f" />
<line x1="345.20" y1="316.30" x2="348.20" y2="316.30" stroke="#2b2b2b" stroke-width="0.8" />
<text x="341.60" y="319.01" font-size="6.55" text-anchor="end" fill="#3a3a3a" font-weight="normal" >g_Mucispirillum</text>
<rect x="382.70" y="320.95" width="46.10" height="6.20" fill="#e8490f" />
<line x1="345.20" y1="324.05" x2="348.20" y2="324.05" stroke="#2b2b2b" stroke-width="0.8" />
<text x="341.60" y="326.80" font-size="6.55" text-anchor="end" fill="#3a3a3a" font-weight="normal" >g_Rikenellaceae_RC9_gut_group</text>
<rect x="382.30" y="328.70" width="46.50" height="6.20" fill="#e8490f" />
<line x1="345.20" y1="331.80" x2="348.20" y2="331.80" stroke="#2b2b2b" stroke-width="0.8" />
<text x="341.60" y="334.59" font-size="6.55" text-anchor="end" fill="#3a3a3a" font-weight="normal" >g_Candidatus_Stoquefichus</text>
<rect x="381.70" y="336.45" width="47.10" height="6.20" fill="#e8490f" />
<line x1="345.20" y1="339.55" x2="348.20" y2="339.55" stroke="#2b2b2b" stroke-width="0.8" />
<text x="341.60" y="342.38" font-size="6.55" text-anchor="end" fill="#3a3a3a" font-weight="normal" >g_UCG_010</text>
<rect x="381.20" y="344.21" width="47.60" height="6.20" fill="#e8490f" />
<line x1="345.20" y1="347.31" x2="348.20" y2="347.31" stroke="#2b2b2b" stroke-width="0.8" />
<text x="341.60" y="350.16" font-size="6.55" text-anchor="end" fill="#3a3a3a" font-weight="normal" >g_Anaerostipes</text>
<rect x="380.20" y="351.96" width="48.60" height="6.20" fill="#e8490f" />
<line x1="345.20" y1="355.06" x2="348.20" y2="355.06" stroke="#2b2b2b" stroke-width="0.8" />
<text x="341.60" y="357.95" font-size="6.55" text-anchor="end" fill="#3a3a3a" font-weight="normal" >g_Ruminococcaceae</text>
<rect x="379.20" y="359.71" width="49.60" height="6.20" fill="#e8490f" />
<line x1="345.20" y1="362.81" x2="348.20" y2="362.81" stroke="#2b2b2b" stroke-width="0.8" />
<text x="341.60" y="365.74" font-size="6.55" text-anchor="end" fill="#3a3a3a" font-weight="normal" >g_Lachnospiraceae_UCG_006</text>
<rect x="378.50" y="367.47" width="50.30" height="6.20" fill="#e8490f" />
<line x1="345.20" y1="370.57" x2="348.20" y2="370.57" stroke="#2b2b2b" stroke-width="0.8" />
<text x="341.60" y="373.52" font-size="6.55" text-anchor="end" fill="#3a3a3a" font-weight="normal" >g_RF39</text>
<rect x="378.10" y="375.22" width="50.70" height="6.20" fill="#e8490f" />
<line x1="345.20" y1="378.32" x2="348.20" y2="378.32" stroke="#2b2b2b" stroke-width="0.8" />
<text x="341.60" y="381.31" font-size="6.55" text-anchor="end" fill="#3a3a3a" font-weight="normal" >g_Rikenella</text>
<rect x="376.90" y="382.97" width="51.90" height="6.20" fill="#e8490f" />
<line x1="345.20" y1="386.07" x2="348.20" y2="386.07" stroke="#2b2b2b" stroke-width="0.8" />
<text x="341.60" y="389.10" font-size="6.55" text-anchor="end" fill="#3a3a3a" font-weight="normal" >g_Roseburia</text>
<rect x="375.20" y="390.73" width="53.60" height="6.20" fill="#e8490f" />
<line x1="345.20" y1="393.83" x2="348.20" y2="393.83" stroke="#2b2b2b" stroke-width="0.8" />
<text x="341.60" y="396.89" font-size="6.55" text-anchor="end" fill="#3a3a3a" font-weight="normal" >g_Odoribacter</text>
<rect x="374.80" y="398.48" width="54.00" height="6.20" fill="#e8490f" />
<line x1="345.20" y1="401.58" x2="348.20" y2="401.58" stroke="#2b2b2b" stroke-width="0.8" />
<text x="341.60" y="404.67" font-size="6.55" text-anchor="end" fill="#3a3a3a" font-weight="normal" >g_Alistipes</text>
<rect x="373.10" y="406.23" width="55.70" height="6.20" fill="#e8490f" />
<line x1="345.20" y1="409.33" x2="348.20" y2="409.33" stroke="#2b2b2b" stroke-width="0.8" />
<text x="341.60" y="412.46" font-size="6.55" text-anchor="end" fill="#3a3a3a" font-weight="normal" >g_Desulfovibrio</text>
<rect x="371.90" y="413.98" width="56.90" height="6.20" fill="#e8490f" />
<line x1="345.20" y1="417.08" x2="348.20" y2="417.08" stroke="#2b2b2b" stroke-width="0.8" />
<text x="341.60" y="420.25" font-size="6.55" text-anchor="end" fill="#3a3a3a" font-weight="normal" >g_Colidextribacter</text>
<rect x="370.40" y="421.74" width="58.40" height="6.20" fill="#e8490f" />
<line x1="345.20" y1="424.84" x2="348.20" y2="424.84" stroke="#2b2b2b" stroke-width="0.8" />
<text x="341.60" y="428.04" font-size="6.55" text-anchor="end" fill="#3a3a3a" font-weight="normal" >g_Romboutsia</text>
<rect x="369.20" y="429.49" width="59.60" height="6.20" fill="#e8490f" />
<line x1="345.20" y1="432.59" x2="348.20" y2="432.59" stroke="#2b2b2b" stroke-width="0.8" />
<text x="341.60" y="435.82" font-size="6.55" text-anchor="end" fill="#3a3a3a" font-weight="normal" >g_Escherichia_Shigella</text>
<rect x="359.80" y="437.24" width="69.00" height="6.20" fill="#e8490f" />
<line x1="345.20" y1="440.34" x2="348.20" y2="440.34" stroke="#2b2b2b" stroke-width="0.8" />
<text x="341.60" y="443.61" font-size="6.55" text-anchor="end" fill="#3a3a3a" font-weight="normal" >g_Lachnospiraceae_NK4A136_group</text>
<rect x="355.80" y="445.00" width="73.00" height="6.20" fill="#e8490f" />
<line x1="345.20" y1="448.10" x2="348.20" y2="448.10" stroke="#2b2b2b" stroke-width="0.8" />
<text x="341.60" y="451.40" font-size="6.55" text-anchor="end" fill="#3a3a3a" font-weight="normal" >g_Muribaculaceae</text>
<rect x="347.5" y="196.0" width="164.0" height="256.6" fill="none" stroke="#2a2a2a" stroke-width="1"/>
<line x1="428.60" y1="196.00" x2="428.60" y2="452.60" stroke="#2a2a2a" stroke-width="1.0" />
<line x1="348.60" y1="453.00" x2="348.60" y2="455.60" stroke="#2b2b2b" stroke-width="0.9" />
<text x="348.60" y="464.60" font-size="6.6" text-anchor="middle" fill="#3a3a3a" font-weight="normal" >−5.0</text>
<line x1="388.70" y1="453.00" x2="388.70" y2="455.60" stroke="#2b2b2b" stroke-width="0.9" />
<text x="388.70" y="464.60" font-size="6.6" text-anchor="middle" fill="#3a3a3a" font-weight="normal" >−2.5</text>
<line x1="428.80" y1="453.00" x2="428.80" y2="455.60" stroke="#2b2b2b" stroke-width="0.9" />
<text x="428.80" y="464.60" font-size="6.6" text-anchor="middle" fill="#3a3a3a" font-weight="normal" >−0.0</text>
<line x1="468.90" y1="453.00" x2="468.90" y2="455.60" stroke="#2b2b2b" stroke-width="0.9" />
<text x="468.90" y="464.60" font-size="6.6" text-anchor="middle" fill="#3a3a3a" font-weight="normal" >2.5</text>
<line x1="509.00" y1="453.00" x2="509.00" y2="455.60" stroke="#2b2b2b" stroke-width="0.9" />
<text x="509.00" y="464.60" font-size="6.6" text-anchor="middle" fill="#3a3a3a" font-weight="normal" >5.0</text>
<text x="429.80" y="477.00" font-size="7.2" text-anchor="middle" fill="#3a3a3a" font-weight="normal" textLength="54.6" lengthAdjust="spacingAndGlyphs">LDA score (log 10)</text>
<circle cx="400.80" cy="489.00" r="2.8" fill="#1c9a41" />
<text x="406.90" y="491.60" font-size="6.6" text-anchor="start" fill="#3a3a3a" font-weight="normal" textLength="25.4" lengthAdjust="spacingAndGlyphs">CPX-351</text>
<circle cx="438.70" cy="489.00" r="2.8" fill="#e2491c" />
<text x="445.00" y="491.60" font-size="6.6" text-anchor="start" fill="#3a3a3a" font-weight="normal" textLength="16.7" lengthAdjust="spacingAndGlyphs">"7+3"</text>
<rect x="0.5" y="0.5" width="519" height="519" fill="none" stroke="#4a4a4a" stroke-width="1"/>
</svg>
</body></html>
